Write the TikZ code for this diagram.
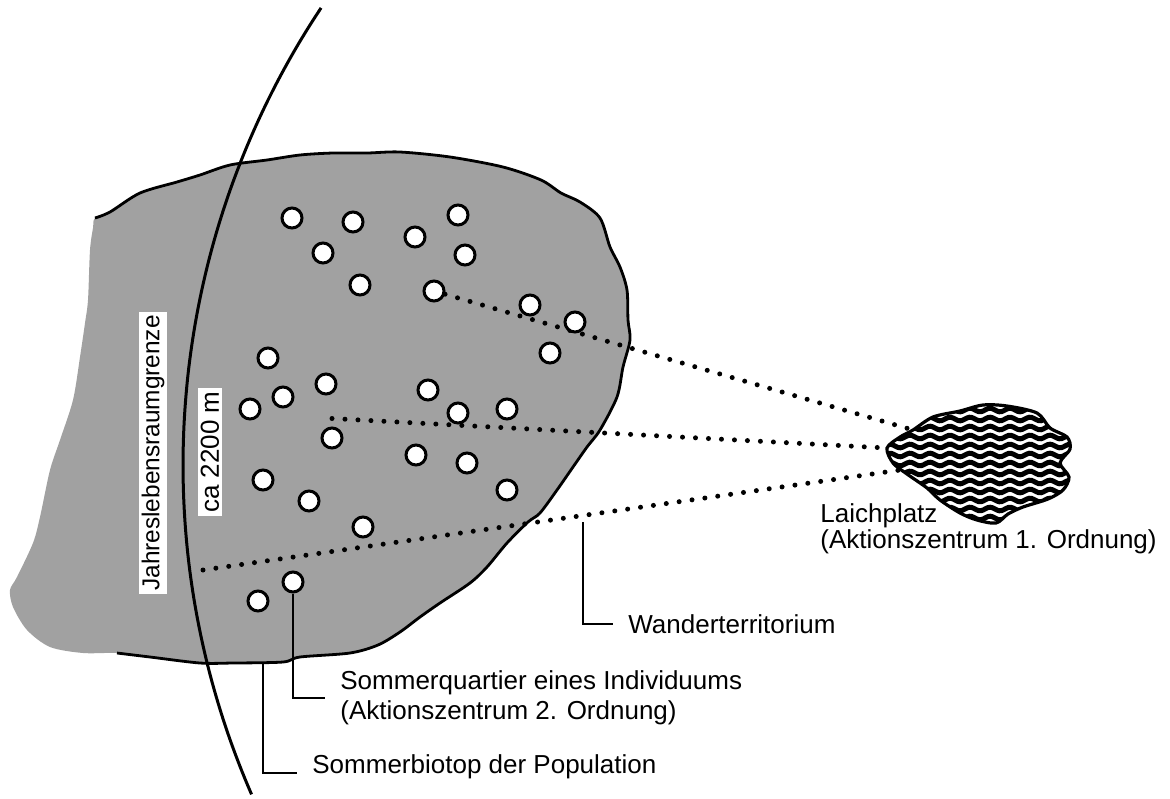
\documentclass[tikz,border=0pt]{standalone}
\usepackage{fontspec}
\setmainfont{Liberation Sans}
\usetikzlibrary{backgrounds}

\begin{document}
\begin{tikzpicture}[x=0.5pt, y=-0.5pt, font=\fontsize{13}{15}\selectfont,
    ind/.style={circle, draw, fill=white, line width=1.5pt, minimum size=10pt, inner sep=0pt},
    wander/.style={line width=2.5pt, line cap=round, dash pattern=on 0pt off 6.5pt},
    leader/.style={line width=1.2pt},
    lbl/.style={inner xsep=7.5pt, inner ysep=0pt, align=left},
    vlbl/.style={rotate=90, fill=white, inner sep=1.5pt}]
  \definecolor{raster}{gray}{0.63}
  \useasboundingbox (0,0) rectangle (1170,798);
  % --- Sommerquartiere (Aktionszentren 2. Ordnung) ---
  \foreach \x/\y [count=\i] in {292/218, 353/222, 415/237, 458/215, 323/253, 465/255,
      360/285, 434/291, 530/305, 575/322, 550/353, 268/358, 326/384, 283/397,
      250/409, 428/390, 458/413, 507/409, 332/438, 416/455, 467/463, 263/480,
      309/501, 507/490, 363/527, 293/582, 258/601}
    \node[ind] (c\i) at (\x,\y) {};
  % --- Laichplatz ---
  \coordinate (lk1) at (913,430);
  \coordinate (lk2) at (887,448);
  \coordinate (lk3) at (900,470);
  \draw[line width=1.6pt, path picture={
      \foreach \yy in {401,410,...,527}
        \draw[line width=2.5pt] plot[domain=875:1080, samples=90, smooth] (\x, {\yy+1.8*sin(18*(\x-875))});
    }] plot[smooth cycle] coordinates {(887,448) (900,437) (913,430) (933,417) (960,411)
      (983,405) (1007,406) (1037,413) (1050,428) (1067,437) (1070,449) (1060,463)
      (1069,477) (1063,490) (1048,499) (1023,507) (1008,514) (996,523) (977,520)
      (960,513) (940,500) (927,488) (907,474) (893,463)};
  % --- Sommerbiotop (Raster) und Wanderwege ---
  \coordinate (s3) at (203,570);
  \begin{scope}[on background layer]
    \fill[raster] plot[smooth cycle] coordinates {(95,218) (110,212) (140,193) (177,182)
      (200,175) (230,165) (267,160) (300,155) (333,153) (367,153) (400,152) (450,157)
      (503,167) (541,180) (561,193) (580,202) (600,218) (610,247) (620,267) (627,290)
      (628,320) (630,340) (623,367) (617,397) (600,430) (587,447) (573,467) (557,490)
      (540,513) (528,522) (507,543) (487,567) (470,583) (440,603) (420,617) (400,632)
      (378,645) (350,653) (300,657) (283,662) (233,663) (200,663) (150,657) (117,653)
      (83,653) (50,647) (27,630) (13,607) (10,590) (17,577) (33,543) (40,517) (50,470)
      (60,440) (73,400) (80,357) (85,323) (88,300) (90,250) (93,228)};
    \draw[wander] (c8) -- (lk1);
    \draw[wander] ([yshift=4pt]c19.north) -- (lk2);
    \draw[wander] (s3) -- (lk3);
  \end{scope}
  \draw[line width=1.4pt] plot[smooth] coordinates {(95,218) (110,212) (140,193) (177,182)
      (200,175) (230,165) (267,160) (300,155) (333,153) (367,153) (400,152) (450,157)
      (503,167) (541,180) (561,193) (580,202) (600,218) (610,247) (620,267) (627,290)
      (628,320) (630,340) (623,367) (617,397) (600,430) (587,447) (573,467) (557,490)
      (540,513) (528,522) (507,543) (487,567) (470,583) (440,603) (420,617) (400,632)
      (378,645) (350,653) (300,657) (283,662) (233,663) (200,663) (150,657) (117,653)};
  % --- Grenze des Jahreslebensraums ---
  \draw[line width=1.5pt] plot[domain=156.5:213.6, samples=60, smooth]
    ({1009+826*cos(\x)}, {465+826*sin(\x)});
  \node[vlbl, font=\fontsize{12.2}{14}\selectfont] (jg) at (153,453) {Jahreslebensraumgrenze};
  \node[vlbl] (ca) at (210,452) {ca 2200 m};
  % --- Beschriftungen ---
  \node[lbl, inner xsep=0pt, anchor=north west, font=\fontsize{13}{12}\selectfont]
    (lp) at (820,503) {Laichplatz\\(Aktionszentrum 1. Ordnung)};
  \node[lbl, anchor=west] (wt) at (613,624) {Wanderterritorium};
  \node[lbl, anchor=west] (sq) at (325,698)
    {Sommerquartier eines Individuums\\(Aktionszentrum 2. Ordnung)};
  \node[lbl, anchor=base west] (sb) at (297,773) {Sommerbiotop der Population};
  \coordinate (wt0) at (583,522);
  \coordinate (sb0) at (263,662);
  \draw[leader] (wt0) |- (wt.west);
  \draw[leader] (c26.south) |- (sq.west);
  \draw[leader] (sb0) |- (sb.base west);
\end{tikzpicture}
\end{document}
